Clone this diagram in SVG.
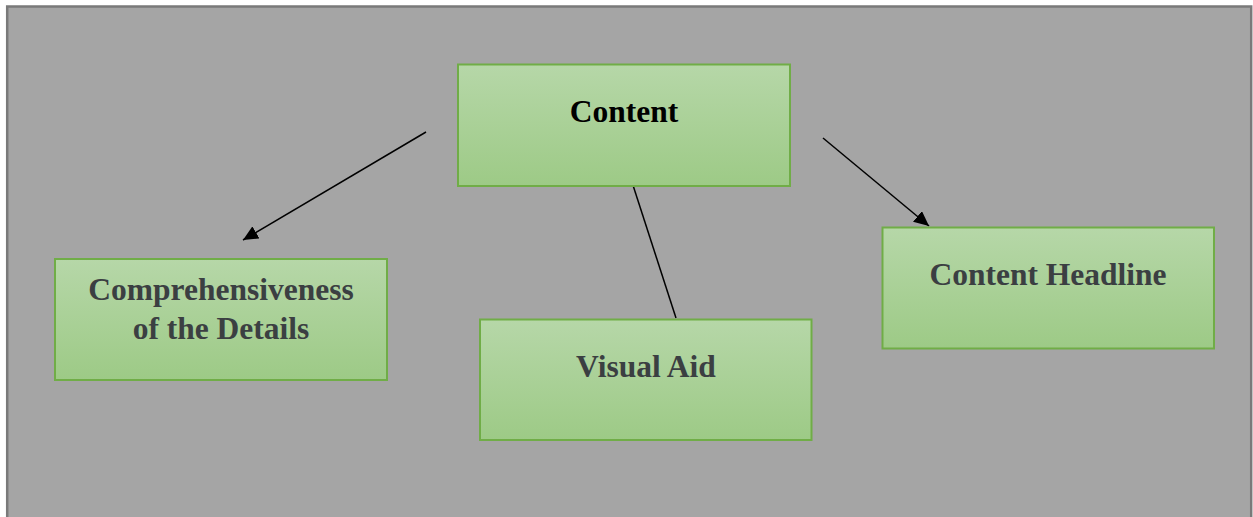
<svg xmlns="http://www.w3.org/2000/svg" width="1253" height="517" viewBox="0 0 1253 517">
  <style>
    .box { stroke: #70ad47; stroke-width: 2; fill: url(#boxFill); }
    .label { font-family: "Liberation Serif", "Times New Roman", serif; font-weight: bold; font-size: 31.5px; text-anchor: middle; fill: #3b3f42; }
    .title { fill: #000000; }
    .link { stroke: #000000; stroke-width: 1.5; fill: none; }
  </style>
  <defs>
    <linearGradient id="boxFill" x1="0" y1="0" x2="0" y2="1">
      <stop offset="0" stop-color="#b6d7a8"/>
      <stop offset="1" stop-color="#9dca86"/>
    </linearGradient>
    <marker id="arrowHead" markerUnits="userSpaceOnUse" markerWidth="16" markerHeight="14" refX="15" refY="7" orient="auto">
      <path d="M0,0 L15,7 L0,14 Z" fill="#000000"/>
    </marker>
  </defs>

  <!-- page background and frame -->
  <rect x="0" y="0" width="1253" height="517" fill="#ffffff"/>
  <rect x="7.2" y="6.5" width="1244" height="520" fill="#a5a5a5" stroke="#7a7a7a" stroke-width="2.5"/>

  <!-- connectors -->
  <g id="connectors">
    <line class="link" x1="426" y1="132" x2="243" y2="240" marker-end="url(#arrowHead)"/>
    <line class="link" x1="823" y1="138" x2="929" y2="226" marker-end="url(#arrowHead)"/>
    <line class="link" x1="630" y1="176" x2="676" y2="318"/>
  </g>

  <g id="node-content">
    <rect class="box" x="458" y="64.5" width="332" height="121.5"/>
    <text class="label title" x="624" y="121.5">Content</text>
  </g>

  <g id="node-comprehensiveness">
    <rect class="box" x="55" y="259" width="332" height="121"/>
    <text class="label" x="221" y="300">Comprehensiveness</text>
    <text class="label" x="221" y="339">of the Details</text>
  </g>

  <g id="node-visual-aid">
    <rect class="box" x="480" y="319.5" width="331.5" height="120.5"/>
    <text class="label" x="646" y="377">Visual Aid</text>
  </g>

  <g id="node-content-headline">
    <rect class="box" x="882.5" y="227.5" width="331.5" height="121"/>
    <text class="label" x="1048" y="285">Content Headline</text>
  </g>
</svg>
